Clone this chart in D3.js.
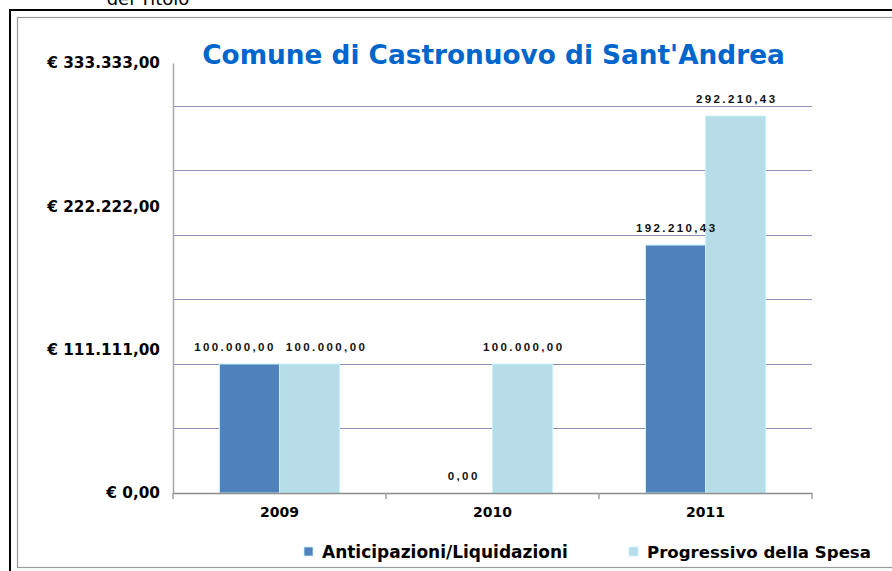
<!DOCTYPE html>
<html lang="it">
  <head>
    <meta charset="UTF-8" />
    <title>Comune di Castronuovo di Sant'Andrea</title>
    <script src="https://d3js.org/d3.v7.min.js"></script>
    <style>
      body {
        margin: 0;
        background: #fff;
        font-family: "DejaVu Sans", sans-serif;
      }
      svg {
        display: block;
      }
      .grid line {
        stroke: #8e8eb8;
        stroke-width: 1px;
      }
      .tick-label {
        font-family: "DejaVu Sans", sans-serif;
        font-weight: bold;
        font-size: 15.3px;
        fill: #000;
      }
      .year-label {
        font-family: "DejaVu Sans", sans-serif;
        font-weight: bold;
        font-size: 14px;
        fill: #000;
      }
      .value-label {
        font-family: "Liberation Sans", Arial, sans-serif;
        font-weight: bold;
        font-size: 11.5px;
        letter-spacing: 2.4px;
        fill: #111;
      }
    </style>
  </head>
  <body>
    <svg id="chart"></svg>

    <script>
      // data
      const years = ["2009", "2010", "2011"];
      const seriesNames = ["Anticipazioni/Liquidazioni", "Progressivo della Spesa"];
      const anticipazioni = [100000.0, 0.0, 192210.43];
      const progressivo = [100000.0, 100000.0, 292210.43];
      const yTickValues = [0, 111111, 222222, 333333];
      const gridValues = [50000, 100000, 150000, 200000, 250000, 300000];
      const colors = ["#4f81bd", "#b7dde8"];

      const width = 892;
      const height = 571;
      const plot = { left: 173, right: 812, top: 63, bottom: 493 };

      const it = d3.formatLocale({
        decimal: ",",
        thousands: ".",
        grouping: [3],
        currency: ["€ ", ""],
      });
      const fmtMoney = it.format("$,.2f");
      const fmtValue = it.format(",.2f");

      // scale a text's font size so it spans the given width
      function fitWidth(sel, base, w) {
        const len = sel.node().getComputedTextLength();
        sel.style("font-size", (base * w) / len + "px");
      }

      const svg = d3.select("#chart").attr("width", width).attr("height", height);

      // frames (outer black one, inner grey one of the chart area)
      svg.append("rect")
        .attr("x", 10).attr("y", 10).attr("width", 900).attr("height", 600)
        .attr("fill", "none").attr("stroke", "#000").attr("stroke-width", 2);
      svg.append("rect")
        .attr("x", 17.5).attr("y", 17.5).attr("width", 900).attr("height", 550)
        .attr("fill", "none").attr("stroke", "#9a9a9a").attr("stroke-width", 1.2);

      // cut-off caption from the page above
      svg.append("text")
        .attr("x", 148).attr("y", 5)
        .attr("text-anchor", "middle")
        .style("font-size", "18px")
        .attr("fill", "#000")
        .text("del Titolo");

      const x = d3.scaleBand().domain(years).range([plot.left, plot.right]);
      const xSub = d3.scaleBand()
        .domain(seriesNames)
        .range([0, x.bandwidth()])
        .paddingInner(0)
        .paddingOuter(0.775);
      const y = d3.scaleLinear().domain([0, 333333]).range([plot.bottom, plot.top]);

      // gridlines
      svg.append("g")
        .attr("class", "grid")
        .selectAll("line")
        .data(gridValues)
        .join("line")
        .attr("x1", plot.left)
        .attr("x2", plot.right)
        .attr("y1", (d) => Math.round(y(d)) + 0.5)
        .attr("y2", (d) => Math.round(y(d)) + 0.5);

      // bars
      const rows = years.map((yr, i) => ({
        year: yr,
        values: [
          { name: seriesNames[0], value: anticipazioni[i], c: colors[0] },
          { name: seriesNames[1], value: progressivo[i], c: colors[1] },
        ],
      }));

      const groups = svg.append("g")
        .selectAll("g")
        .data(rows)
        .join("g")
        .attr("transform", (d) => `translate(${x(d.year)},0)`);

      groups.selectAll("rect")
        .data((d) => d.values.filter((v) => v.value > 0))
        .join("rect")
        .attr("x", (d) => xSub(d.name))
        .attr("width", xSub.bandwidth())
        .attr("y", (d) => y(d.value))
        .attr("height", (d) => y(0) - y(d.value))
        .attr("fill", (d) => d.c)
        .attr("stroke", "#c4f3fb")
        .attr("stroke-width", 1);

      // value labels, pushed apart when two of a group collide
      groups.each(function (d) {
        const g = d3.select(this);
        const labels = d.values.map((v) => {
          const t = g.append("text")
            .attr("class", "value-label")
            .attr("text-anchor", "middle")
            .attr("y", y(v.value) - 13)
            .text(fmtValue(v.value));
          return { t, cx: xSub(v.name) + xSub.bandwidth() / 2, w: t.node().getComputedTextLength(), yv: y(v.value) };
        });
        const [a, b] = labels;
        const need = (a.w + b.w) / 2 + 10;
        if (Math.abs(a.yv - b.yv) < 14 && b.cx - a.cx < need) {
          const push = (need - (b.cx - a.cx)) / 2;
          a.cx -= push;
          b.cx += push;
        }
        labels.forEach((l) => l.t.attr("x", l.cx + 1.2));
      });

      // y axis
      const yAxis = svg.append("g")
        .attr("transform", `translate(${plot.left},0)`)
        .call(d3.axisLeft(y).tickValues(yTickValues).tickSize(0).tickPadding(13).tickFormat(fmtMoney))
        .attr("font-family", null)
        .attr("font-size", null);
      yAxis.select(".domain").attr("stroke", "#a8a8a8").attr("stroke-width", 1.5);
      yAxis.selectAll("text").attr("class", "tick-label");

      // x axis
      const xAxis = svg.append("g")
        .attr("transform", `translate(0,${plot.bottom})`)
        .call(d3.axisBottom(x).tickSize(0).tickPadding(14))
        .attr("font-family", null)
        .attr("font-size", null);
      xAxis.select(".domain").attr("stroke", "#8c8c8c").attr("stroke-width", 1.5);
      xAxis.selectAll("text").attr("class", "year-label");
      // category boundary ticks
      xAxis.append("g")
        .selectAll("line")
        .data(years.map((yr) => x(yr)).concat([plot.right]))
        .join("line")
        .attr("x1", (d) => d).attr("x2", (d) => d)
        .attr("y1", 0).attr("y2", 6)
        .attr("stroke", "#a0a0a0").attr("stroke-width", 1.5);

      // title
      const title = svg.append("text")
        .attr("x", 493.5)
        .attr("y", 64)
        .attr("text-anchor", "middle")
        .style("font-weight", "bold")
        .style("font-size", "26px")
        .attr("fill", "#0066cc")
        .text("Comune di Castronuovo di Sant'Andrea");
      fitWidth(title, 26, 583);

      // legend
      const legendX = [304, 629];
      const legendW = [246, 224];
      const legend = svg.append("g")
        .selectAll("g")
        .data(seriesNames)
        .join("g")
        .attr("transform", (d, i) => `translate(${legendX[i]},552)`);
      legend.append("rect")
        .attr("x", 0).attr("y", -5).attr("width", 9).attr("height", 9)
        .attr("fill", (d, i) => colors[i])
        .attr("stroke", "#c4f3fb").attr("stroke-width", 0.8);
      legend.append("text")
        .attr("x", 18)
        .attr("y", 6)
        .style("font-weight", "bold")
        .style("font-size", "15px")
        .attr("fill", "#000")
        .text((d) => d)
        .each(function (d, i) {
          fitWidth(d3.select(this), 15, legendW[i]);
        });
    </script>
  </body>
</html>
